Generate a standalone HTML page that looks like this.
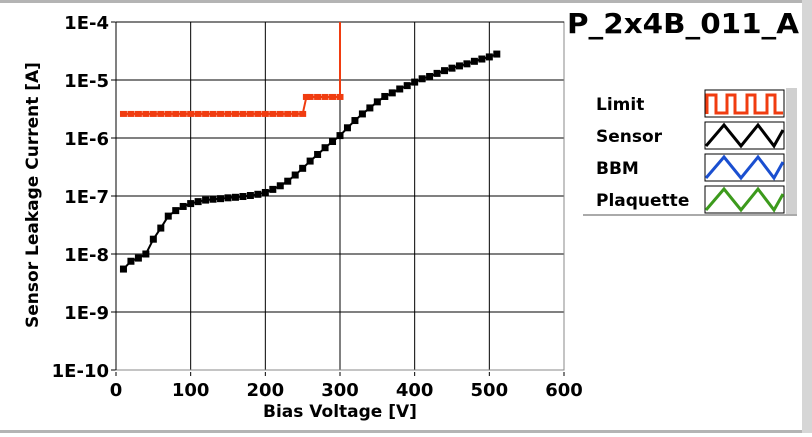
<!DOCTYPE html>
<html><head><meta charset="utf-8"><style>
body{margin:0;width:812px;height:433px;overflow:hidden;background:#fff;font-family:"DejaVu Sans","Liberation Sans",sans-serif;}
svg text{font-weight:bold;fill:#000;}
</style></head><body>
<svg id="c" width="812" height="433" xmlns="http://www.w3.org/2000/svg">
<rect x="0" y="0" width="812" height="3" fill="#b4b4b4"/>
<rect x="0" y="430" width="812" height="3" fill="#b4b4b4"/>
<rect x="802" y="0" width="10" height="433" fill="#d6d6d6"/>
<g id="grid"></g>
<g id="series"></g>
<text x="683" y="33" font-size="28" text-anchor="middle" textLength="232" lengthAdjust="spacingAndGlyphs">P_2x4B_011_A</text>
<text x="340" y="417" font-size="17" text-anchor="middle">Bias Voltage [V]</text>
<text transform="translate(38,195) rotate(-90)" font-size="17" text-anchor="middle">Sensor Leakage Current [A]</text>
<g>
<rect x="583" y="88" width="214" height="127" fill="#fff"/>
<rect x="786" y="88" width="11" height="127" fill="#d0d0d0"/>
<line x1="583" y1="215" x2="797" y2="215" stroke="#aaa" stroke-width="2"/>
<g><text x="596" y="110" font-size="17">Limit</text><rect x="705" y="90" width="79" height="27" fill="#fff" stroke="#000"/><polyline points="707,114 707,95 716,95 716,113 727,113 727,95 735,95 735,113 747,113 747,95 755,95 755,113 767,113 767,95 775,95 775,113 783,113" fill="none" stroke="#f03c10" stroke-width="3"/></g>
<g><text x="596" y="142" font-size="17">Sensor</text><rect x="705" y="122" width="79" height="27" fill="#fff" stroke="#000"/><polyline points="706,146 724,125 741,146 758,125 774,146 783,130" fill="none" stroke="#000" stroke-width="3"/></g>
<g><text x="596" y="174" font-size="17">BBM</text><rect x="705" y="154" width="79" height="27" fill="#fff" stroke="#000"/><polyline points="706,178 724,157 741,178 758,157 774,178 783,162" fill="none" stroke="#1a4fd0" stroke-width="3"/></g>
<g><text x="596" y="206" font-size="17">Plaquette</text><rect x="705" y="186" width="79" height="27" fill="#fff" stroke="#000"/><polyline points="706,210 724,189 741,210 758,189 774,210 783,194" fill="none" stroke="#3c9a1c" stroke-width="3"/></g>
</g>
</svg>
<script>
const xTicks=[0,100,200,300,400,500,600];
const yTickExps=[-4,-5,-6,-7,-8,-9,-10];
const yTickLabels=["1E-4","1E-5","1E-6","1E-7","1E-8","1E-9","1E-10"];
const sensorV=[10,20,30,40,50,60,70,80,90,100,110,120,130,140,150,160,170,180,190,200,210,220,230,240,250,260,270,280,290,300,310,320,330,340,350,360,370,380,390,400,410,420,430,440,450,460,470,480,490,500,510];
const sensorI=[5.5e-9,7.5e-9,8.5e-9,1.0e-8,1.8e-8,2.8e-8,4.5e-8,5.6e-8,6.6e-8,7.4e-8,8.0e-8,8.5e-8,8.8e-8,9.0e-8,9.3e-8,9.5e-8,9.8e-8,1.02e-7,1.07e-7,1.15e-7,1.3e-7,1.5e-7,1.8e-7,2.3e-7,3.0e-7,4.0e-7,5.2e-7,6.8e-7,8.7e-7,1.1e-6,1.5e-6,2.0e-6,2.6e-6,3.3e-6,4.2e-6,5.2e-6,6.0e-6,7.0e-6,8.0e-6,9.2e-6,1.05e-5,1.15e-5,1.3e-5,1.45e-5,1.6e-5,1.75e-5,1.9e-5,2.1e-5,2.3e-5,2.5e-5,2.8e-5];
const limitV=[10,20,30,40,50,60,70,80,90,100,110,120,130,140,150,160,170,180,190,200,210,220,230,240,250,255,260,270,280,290,300,300];
const limitI=[2.6e-6,2.6e-6,2.6e-6,2.6e-6,2.6e-6,2.6e-6,2.6e-6,2.6e-6,2.6e-6,2.6e-6,2.6e-6,2.6e-6,2.6e-6,2.6e-6,2.6e-6,2.6e-6,2.6e-6,2.6e-6,2.6e-6,2.6e-6,2.6e-6,2.6e-6,2.6e-6,2.6e-6,2.6e-6,5.1e-6,5.1e-6,5.1e-6,5.1e-6,5.1e-6,5.1e-6,1e-4];
const L=116,R=564,T=22,B=370;
const xs=v=>L+(v-0)/600*(R-L);
const ys=i=>T+(-4-Math.log10(i))/6*(B-T);
const NS="http://www.w3.org/2000/svg";
function mk(tag,attrs,parent){const e=document.createElementNS(NS,tag);for(const k in attrs)e.setAttribute(k,attrs[k]);parent.appendChild(e);return e;}
const g=document.getElementById('grid'),s=document.getElementById('series');
xTicks.forEach(t=>{const x=xs(t);
 if(t>0&&t<600){const l=mk('line',{x1:x,y1:T,x2:x,y2:B,stroke:'#000','stroke-width':1},g);}
 mk('line',{x1:x,y1:B+2,x2:x,y2:B+6,stroke:'#000'},g);
 const tx=mk('text',{x:x,y:B+26,'font-size':18,'text-anchor':'middle'},g);tx.textContent=t;
 
 });
yTickExps.forEach((e,i)=>{const y=ys(Math.pow(10,e));
 if(e<-4&&e>-10){const l=mk('line',{x1:L,y1:y,x2:R,y2:y,stroke:'#000','stroke-width':1},g);}
 mk('line',{x1:L-5,y1:y,x2:L,y2:y,stroke:'#000'},g);
 const tx=mk('text',{x:L-7,y:y+7,'font-size':18,'text-anchor':'end'},g);tx.textContent=yTickLabels[i];
 
 });
const fr=mk('rect',{x:L,y:T,width:R-L,height:B-T,fill:'none',stroke:'#888','stroke-width':1},g);


mk('line',{x1:L,y1:T,x2:R,y2:T,stroke:'#000'},g);mk('line',{x1:L,y1:T,x2:L,y2:B,stroke:'#000'},g);
const lp=mk('polyline',{points:limitV.map((v,i)=>xs(v)+','+ys(limitI[i])).join(' '),fill:'none',stroke:'#f03c10','stroke-width':2},s);


limitV.forEach((v,i)=>{if(i===limitV.length-1)return;const x=xs(v),y=ys(limitI[i]);
 const m=mk('rect',{x:x-3.5,y:y-3,width:7,height:6,fill:'#f03c10'},s);
 
 });
const sp=mk('polyline',{points:sensorV.map((v,i)=>xs(v)+','+ys(sensorI[i])).join(' '),fill:'none',stroke:'#000','stroke-width':2},s);


sensorV.forEach((v,i)=>{const x=xs(v),y=ys(sensorI[i]);
 const m=mk('rect',{x:x-3.5,y:y-3.5,width:7,height:7,fill:'#000'},s);
 
 });
</script>
</body></html>
